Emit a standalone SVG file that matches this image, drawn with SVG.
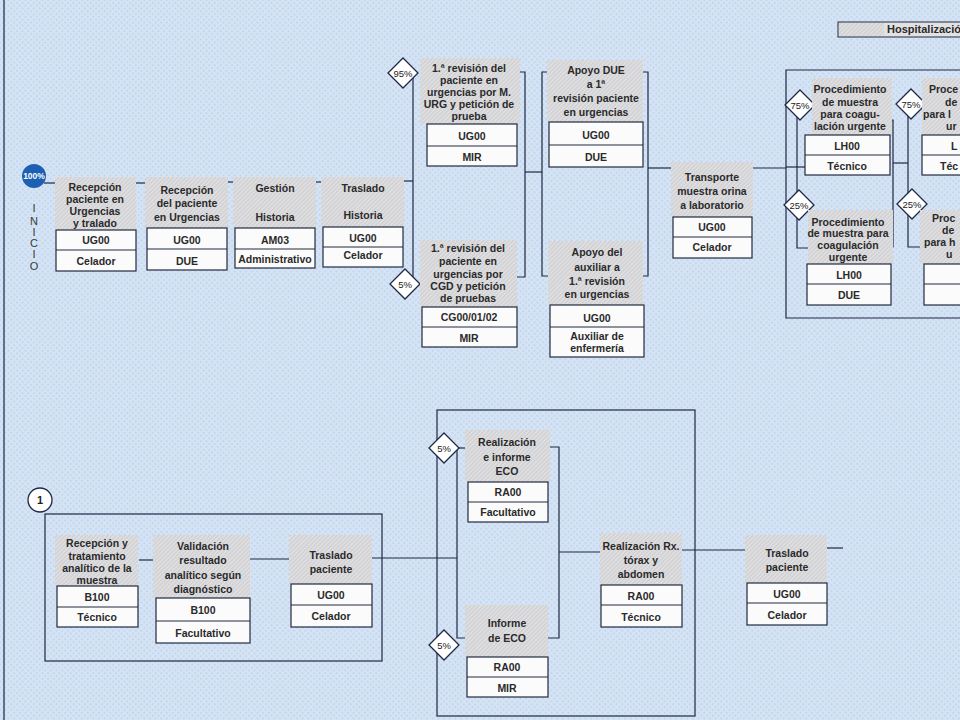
<svg xmlns="http://www.w3.org/2000/svg" width="960" height="720" viewBox="0 0 960 720">
<defs>
<pattern id="bg" patternUnits="userSpaceOnUse" width="4" height="4" patternTransform="rotate(45)">
<rect width="4" height="4" fill="#d5e4f5"/>
<circle cx="2" cy="2" r="0.9" fill="#bdd0e9"/>
</pattern>
<pattern id="hatch" patternUnits="userSpaceOnUse" width="3" height="3" patternTransform="rotate(45)">
<rect width="3" height="3" fill="#d3d3d6"/>
<line x1="0" y1="0" x2="0" y2="3" stroke="#ededee" stroke-width="1.3"/>
</pattern>
<style>
.t{font-family:"Liberation Sans",Arial,Helvetica,sans-serif;font-size:10.5px;font-weight:bold;fill:#2a2a2a;text-anchor:middle}
.ts{font-family:"Liberation Sans",Arial,Helvetica,sans-serif;font-size:10.5px;font-weight:bold;fill:#2a2a2a}
.hat{fill:url(#hatch)}
.box{fill:#fbfbfb;stroke:#222a40;stroke-width:1.2}
.dv{stroke:#222a40;stroke-width:1.2}
.ln{fill:none;stroke:#1f2844;stroke-width:1.2}
.dia{fill:#ffffff;stroke:#1f2844;stroke-width:1.3}
.dt{font-family:"Liberation Sans",Arial,Helvetica,sans-serif;font-size:9.5px;fill:#222;text-anchor:middle}
.ini{font-family:"Liberation Sans",Arial,Helvetica,sans-serif;font-size:11px;fill:#3a3a3a;text-anchor:middle}
</style>
</defs>

<rect width="960" height="720" fill="url(#bg)"/>
<line x1="4" y1="0" x2="4" y2="720" stroke="#3a4a6a" stroke-width="1.5"/>

<g id="header">
<rect x="838" y="22" width="124" height="15" fill="#e2e2e4" stroke="#222a40" stroke-width="1"/>
<rect x="839" y="23" width="45" height="13" class="hat"/>
<text x="887" y="33" class="ts" style="font-size:11px">Hospitalizació</text>
</g>

<g id="connectors">
<path class="ln" d="M44,183 H57"/>
<path class="ln" d="M136,183 H147"/>
<path class="ln" d="M228,182 H235"/>
<path class="ln" d="M316,182 H323"/>
<path class="ln" d="M403,181 H413"/>
<path class="ln" d="M413,78 V278"/>
<path class="ln" d="M517,72 H525 V277 H517"/>
<path class="ln" d="M525,172 H542"/>
<path class="ln" d="M551,72 H542 V276 H551"/>
<path class="ln" d="M643,72 H648 V276 H643"/>
<path class="ln" d="M648,168 H673"/>
<path class="ln" d="M752,168 H786"/>
<path class="ln" d="M962,70 H786 V318 H962"/>
<path class="ln" d="M786,167 H805"/>
<path class="ln" d="M797,112 V198"/>
<path class="ln" d="M797,212 V248 H808"/>
<path class="ln" d="M886,120 H893 V247 H886"/>
<path class="ln" d="M893,163 H908"/>
<path class="ln" d="M908,112 V198"/>
<path class="ln" d="M908,212 V247 H922"/>
<rect class="ln" x="45" y="514" width="337" height="147"/>
<path class="ln" d="M139,560 H155"/>
<path class="ln" d="M250,559 H290"/>
<path class="ln" d="M372,558 H457"/>
<rect class="ln" x="437" y="410" width="258" height="306"/>
<path class="ln" d="M457,448 V638 H466"/>
<path class="ln" d="M457,448 H466"/>
<path class="ln" d="M548,447 H559 V638 H548"/>
<path class="ln" d="M559,552 H600"/>
<path class="ln" d="M682,550 H747"/>
<path class="ln" d="M827,548 H843"/>
</g>

<g id="inicio">
<circle cx="34" cy="176" r="12" fill="#1d5fb2"/>
<text x="34" y="179" style="font-family:'Liberation Sans',Arial,sans-serif;font-size:8.5px;font-weight:bold;fill:#fff;text-anchor:middle">100%</text>
<text x="34" y="212" class="ini">I</text>
<text x="34" y="225" class="ini">N</text>
<text x="34" y="236" class="ini">I</text>
<text x="34" y="247" class="ini">C</text>
<text x="34" y="258" class="ini">I</text>
<text x="34" y="270" class="ini">O</text>
</g>

<g id="n1">
<rect class="hat" x="55" y="177" width="81" height="54"/>
<text class="t"><tspan x="95" y="191">Recepción</tspan><tspan x="95" y="203">paciente en</tspan><tspan x="95" y="215">Urgencias</tspan><tspan x="95" y="227">y tralado</tspan></text>
<rect class="box" x="56" y="230" width="80" height="41"/>
<line class="dv" x1="56" y1="250" x2="136" y2="250"/>
<text class="t" x="96" y="244">UG00</text>
<text class="t" x="96" y="265">Celador</text>
</g>

<g id="n2">
<rect class="hat" x="145" y="177" width="83" height="52"/>
<text class="t"><tspan x="187" y="194">Recepción</tspan><tspan x="187" y="207">del paciente</tspan><tspan x="187" y="221">en Urgencias</tspan></text>
<rect class="box" x="147" y="228" width="80" height="42"/>
<line class="dv" x1="147" y1="249" x2="227" y2="249"/>
<text class="t" x="187" y="244">UG00</text>
<text class="t" x="187" y="265">DUE</text>
</g>

<g id="n3">
<rect class="hat" x="233" y="177" width="83" height="51"/>
<text class="t"><tspan x="275" y="192">Gestión</tspan><tspan x="275" y="221">Historia</tspan></text>
<rect class="box" x="235" y="228" width="80" height="40"/>
<line class="dv" x1="235" y1="249" x2="315" y2="249"/>
<text class="t" x="275" y="244">AM03</text>
<text class="t" x="275" y="263">Administrativo</text>
</g>

<g id="n4">
<rect class="hat" x="321" y="177" width="83" height="50"/>
<text class="t"><tspan x="363" y="192">Traslado</tspan><tspan x="363" y="219">Historia</tspan></text>
<rect class="box" x="323" y="227" width="80" height="40"/>
<line class="dv" x1="323" y1="247" x2="403" y2="247"/>
<text class="t" x="363" y="242">UG00</text>
<text class="t" x="363" y="259">Celador</text>
</g>

<g id="d95">
<polygon class="dia" points="403,58 418,73 403,88 388,73"/>
<text class="dt" x="403" y="76.5">95%</text>
</g>
<g id="d5a">
<polygon class="dia" points="405,269 420,284 405,299 390,284"/>
<text class="dt" x="405" y="287.5">5%</text>
</g>

<g id="n5">
<rect class="hat" x="420" y="58" width="100" height="66"/>
<text class="t"><tspan x="469" y="72">1.ª revisión del</tspan><tspan x="469" y="84">paciente en</tspan><tspan x="469" y="96">urgencias por M.</tspan><tspan x="469" y="108">URG y petición de</tspan><tspan x="469" y="120">prueba</tspan></text>
<rect class="box" x="427" y="124" width="90" height="42"/>
<line class="dv" x1="427" y1="146" x2="517" y2="146"/>
<text class="t" x="472" y="140">UG00</text>
<text class="t" x="472" y="161">MIR</text>
</g>

<g id="n12">
<rect class="hat" x="420" y="240" width="97" height="67"/>
<text class="t"><tspan x="468" y="252">1.ª revisión del</tspan><tspan x="468" y="265">paciente en</tspan><tspan x="468" y="278">urgencias por</tspan><tspan x="468" y="290">CGD y petición</tspan><tspan x="468" y="302">de pruebas</tspan></text>
<rect class="box" x="422" y="307" width="95" height="40"/>
<line class="dv" x1="422" y1="327" x2="517" y2="327"/>
<text class="t" x="469" y="321">CG00/01/02</text>
<text class="t" x="469" y="342">MIR</text>
</g>

<g id="n6">
<rect class="hat" x="547" y="60" width="96" height="62"/>
<text class="t"><tspan x="596" y="74">Apoyo DUE</tspan><tspan x="596" y="88">a 1ª</tspan><tspan x="596" y="102">revisión paciente</tspan><tspan x="596" y="116">en urgencias</tspan></text>
<rect class="box" x="549" y="122" width="94" height="45"/>
<line class="dv" x1="549" y1="145" x2="643" y2="145"/>
<text class="t" x="596" y="139">UG00</text>
<text class="t" x="596" y="161">DUE</text>
</g>

<g id="n13">
<rect class="hat" x="548" y="241" width="95" height="64"/>
<text class="t"><tspan x="597" y="256">Apoyo del</tspan><tspan x="597" y="271">auxiliar a</tspan><tspan x="597" y="285">1.ª revisión</tspan><tspan x="597" y="298">en urgencias</tspan></text>
<rect class="box" x="550" y="305" width="94" height="52"/>
<line class="dv" x1="550" y1="327" x2="644" y2="327"/>
<text class="t" x="597" y="322">UG00</text>
<text class="t" x="597" y="340">Auxiliar de</text>
<text class="t" x="597" y="352">enfermería</text>
</g>

<g id="n7">
<rect class="hat" x="671" y="162" width="82" height="55"/>
<text class="t"><tspan x="712" y="181">Transporte</tspan><tspan x="712" y="195">muestra orina</tspan><tspan x="712" y="209">a laboratorio</tspan></text>
<rect class="box" x="673" y="217" width="79" height="41"/>
<line class="dv" x1="673" y1="237" x2="752" y2="237"/>
<text class="t" x="712" y="231">UG00</text>
<text class="t" x="712" y="251">Celador</text>
</g>

<g id="d75a">
<polygon class="dia" points="800,90 815,105 800,120 785,105"/>
<text class="dt" x="800" y="108.5">75%</text>
</g>
<g id="d25a">
<polygon class="dia" points="799,190 814,205 799,220 784,205"/>
<text class="dt" x="799" y="208.5">25%</text>
</g>

<g id="n8">
<rect class="hat" x="812" y="78" width="80" height="57"/>
<text class="t"><tspan x="850" y="93">Procedimiento</tspan><tspan x="850" y="106">de muestra</tspan><tspan x="850" y="118">para coagu-</tspan><tspan x="850" y="130">lación urgente</tspan></text>
<rect class="box" x="805" y="135" width="85" height="40"/>
<line class="dv" x1="805" y1="155" x2="890" y2="155"/>
<text class="t" x="847" y="150">LH00</text>
<text class="t" x="847" y="170">Técnico</text>
</g>

<g id="n9">
<rect class="hat" x="808" y="210" width="85" height="54"/>
<text class="t"><tspan x="848" y="226">Procedimiento</tspan><tspan x="848" y="237">de muestra para</tspan><tspan x="848" y="249">coagulación</tspan><tspan x="848" y="261">urgente</tspan></text>
<rect class="box" x="807" y="264" width="84" height="41"/>
<line class="dv" x1="807" y1="284" x2="891" y2="284"/>
<text class="t" x="849" y="279">LH00</text>
<text class="t" x="849" y="299">DUE</text>
</g>

<g id="d75b">
<polygon class="dia" points="911,89 926,104 911,119 896,104"/>
<text class="dt" x="911" y="107.5">75%</text>
</g>
<g id="d25b">
<polygon class="dia" points="912,189 927,204 912,219 897,204"/>
<text class="dt" x="912" y="207.5">25%</text>
</g>

<g id="n10">
<rect class="hat" x="922" y="78" width="40" height="57"/>
<text class="ts"><tspan x="929" y="93">Proce</tspan><tspan x="945" y="106">de</tspan><tspan x="923" y="118">para l</tspan><tspan x="946" y="130">ur</tspan></text>
<rect class="box" x="922" y="135" width="45" height="40"/>
<line class="dv" x1="922" y1="155" x2="962" y2="155"/>
<text class="ts" x="951" y="150">L</text>
<text class="ts" x="940" y="170">Téc</text>
</g>

<g id="n11">
<rect class="hat" x="920" y="210" width="42" height="54"/>
<text class="ts"><tspan x="932" y="222">Proc</tspan><tspan x="942" y="234">de</tspan><tspan x="924" y="246">para h</tspan><tspan x="946" y="258">u</tspan></text>
<rect class="box" x="924" y="264" width="43" height="41"/>
<line class="dv" x1="924" y1="284" x2="962" y2="284"/>
</g>

<g id="c1">
<circle cx="40" cy="500" r="12" fill="#ffffff" stroke="#1f2844" stroke-width="1.3"/>
<text x="40" y="504" style="font-family:'Liberation Sans',Arial,sans-serif;font-size:11px;font-weight:bold;fill:#222;text-anchor:middle">1</text>
</g>

<g id="b1">
<rect class="hat" x="55" y="535" width="83" height="52"/>
<text class="t"><tspan x="97" y="547">Recepción y</tspan><tspan x="97" y="560">tratamiento</tspan><tspan x="97" y="572">analítico de la</tspan><tspan x="97" y="584">muestra</tspan></text>
<rect class="box" x="57" y="586" width="81" height="41"/>
<line class="dv" x1="57" y1="607" x2="138" y2="607"/>
<text class="t" x="97" y="601">B100</text>
<text class="t" x="97" y="621">Técnico</text>
</g>

<g id="b2">
<rect class="hat" x="153" y="535" width="97" height="63"/>
<text class="t"><tspan x="203" y="550">Validación</tspan><tspan x="203" y="564">resultado</tspan><tspan x="203" y="579">analítico según</tspan><tspan x="203" y="593">diagnóstico</tspan></text>
<rect class="box" x="156" y="598" width="94" height="45"/>
<line class="dv" x1="156" y1="621" x2="250" y2="621"/>
<text class="t" x="203" y="614">B100</text>
<text class="t" x="203" y="637">Facultativo</text>
</g>

<g id="b3">
<rect class="hat" x="289" y="535" width="83" height="49"/>
<text class="t"><tspan x="331" y="559">Traslado</tspan><tspan x="331" y="573">paciente</tspan></text>
<rect class="box" x="291" y="584" width="81" height="43"/>
<line class="dv" x1="291" y1="605" x2="372" y2="605"/>
<text class="t" x="331" y="599">UG00</text>
<text class="t" x="331" y="620">Celador</text>
</g>

<g id="d5b">
<polygon class="dia" points="444,433 459,448 444,463 429,448"/>
<text class="dt" x="444" y="451.5">5%</text>
</g>
<g id="d5c">
<polygon class="dia" points="444,630 459,645 444,660 429,645"/>
<text class="dt" x="444" y="648.5">5%</text>
</g>

<g id="be1">
<rect class="hat" x="465" y="430" width="85" height="52"/>
<text class="t"><tspan x="507" y="446">Realización</tspan><tspan x="507" y="461">e informe</tspan><tspan x="507" y="475">ECO</tspan></text>
<rect class="box" x="468" y="482" width="80" height="40"/>
<line class="dv" x1="468" y1="502" x2="548" y2="502"/>
<text class="t" x="508" y="496">RA00</text>
<text class="t" x="508" y="516">Facultativo</text>
</g>

<g id="be2">
<rect class="hat" x="465" y="605" width="83" height="52"/>
<text class="t"><tspan x="507" y="627">Informe</tspan><tspan x="507" y="642">de ECO</tspan></text>
<rect class="box" x="467" y="657" width="81" height="40"/>
<line class="dv" x1="467" y1="677" x2="548" y2="677"/>
<text class="t" x="507" y="671">RA00</text>
<text class="t" x="507" y="692">MIR</text>
</g>

<g id="rx">
<rect class="hat" x="600" y="533" width="82" height="52"/>
<text class="t"><tspan x="641" y="550">Realización Rx.</tspan><tspan x="641" y="564">tórax y</tspan><tspan x="641" y="578">abdomen</tspan></text>
<rect class="box" x="601" y="585" width="81" height="42"/>
<line class="dv" x1="601" y1="605" x2="682" y2="605"/>
<text class="t" x="641" y="600">RA00</text>
<text class="t" x="641" y="621">Técnico</text>
</g>

<g id="tr">
<rect class="hat" x="745" y="535" width="82" height="48"/>
<text class="t"><tspan x="787" y="557">Traslado</tspan><tspan x="787" y="571">paciente</tspan></text>
<rect class="box" x="747" y="583" width="80" height="42"/>
<line class="dv" x1="747" y1="603" x2="827" y2="603"/>
<text class="t" x="787" y="598">UG00</text>
<text class="t" x="787" y="619">Celador</text>
</g>
</svg>
